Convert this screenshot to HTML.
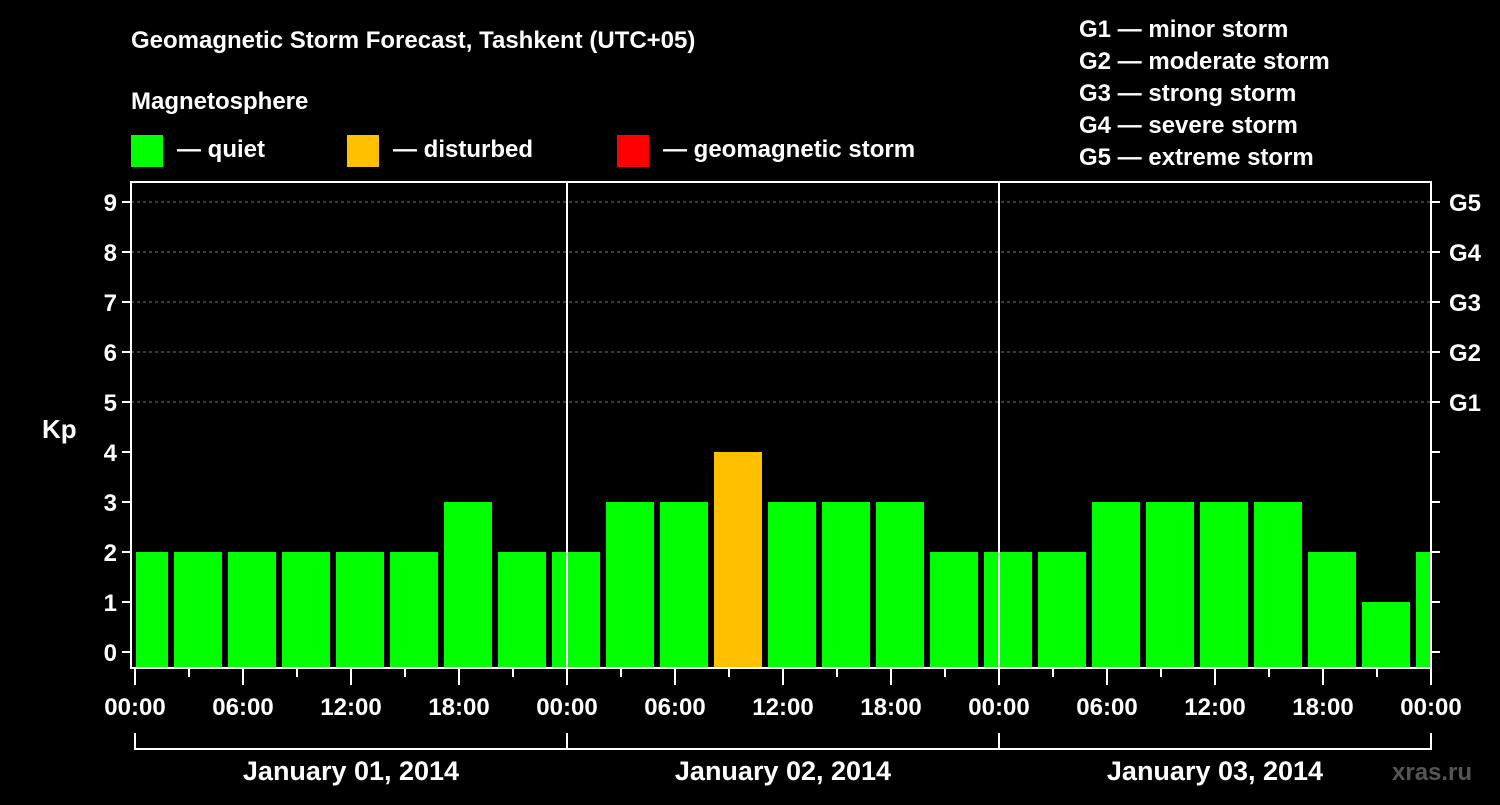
<!DOCTYPE html>
<html><head><meta charset="utf-8"><style>
body{margin:0;background:#000;width:1500px;height:800px;overflow:hidden}
svg text{font-family:"Liberation Sans",sans-serif;font-weight:bold;fill:#fff}
</style></head><body>
<svg id="c" width="1500" height="800">
<text x="131" y="48" font-size="24">Geomagnetic Storm Forecast, Tashkent (UTC+05)</text>
<text x="131" y="109" font-size="24">Magnetosphere</text>
<g><rect x="131" y="135" width="32" height="32" fill="#00ff00"/><text x="177" y="157" font-size="24">— quiet</text></g>
<g><rect x="347" y="135" width="32" height="32" fill="#ffc000"/><text x="393" y="157" font-size="24">— disturbed</text></g>
<g><rect x="617" y="135" width="32" height="32" fill="#ff0000"/><text x="663" y="157" font-size="24">— geomagnetic storm</text></g>
<g font-size="24">
<text x="1079" y="37">G1 — minor storm</text><text x="1079" y="69">G2 — moderate storm</text><text x="1079" y="101">G3 — strong storm</text><text x="1079" y="133">G4 — severe storm</text><text x="1079" y="165">G5 — extreme storm</text></g>
<text x="42" y="438" font-size="26">Kp</text>
<text x="1392" y="780" font-size="24" fill="#555" style="fill:#555">xras.ru</text>
<g id="g"></g>
</svg>
<script>
const kpValues=[2,2,2,2,2,2,3,2,2,3,3,4,3,3,3,2,2,2,3,3,3,3,2,1,2];
const slotStartHours=[-3,0,3,6,9,12,15,18,21,24,27,30,33,36,39,42,45,48,51,54,57,60,63,66,69];
const yTicks=[0,1,2,3,4,5,6,7,8,9];
const gLabels=["G1","G2","G3","G4","G5"];
const xTickLabels=["00:00","06:00","12:00","18:00","00:00","06:00","12:00","18:00","00:00","06:00","12:00","18:00","00:00"];
const dateLabels=["January 01, 2014","January 02, 2014","January 03, 2014"];
const X0=135,PX_H=18,L=131,R=1431,T=182,B=668;
const xs=h=>X0+h*PX_H, ys=v=>652-v*50;
const ns="http://www.w3.org/2000/svg",g=document.getElementById('g');
function mk(t,a,p){const e=document.createElementNS(ns,t);for(const k in a)e.setAttribute(k,a[k]);(p||g).appendChild(e);return e;}
// grid
for(let v=5;v<=9;v++){const l=mk('line',{x1:L,x2:R,y1:ys(v),y2:ys(v),stroke:'#777','stroke-dasharray':'3,3'});

}
// bars
kpValues.forEach((v,i)=>{let x1=xs(slotStartHours[i]+5/3)+0, x2=xs(slotStartHours[i]+5/3)+48;
x1=xs(slotStartHours[i])+39;x2=x1+48;
x1=Math.max(x1,L+5);x2=Math.min(x2,R);
const r=mk('rect',{x:x1,y:ys(v),width:x2-x1,height:667-ys(v),fill:v>=5?'#ff0000':v>=4?'#ffc000':'#00ff00'});

});
// day separators
[1,2].forEach(d=>{const l=mk('line',{x1:xs(24*d),x2:xs(24*d),y1:T,y2:B,stroke:'#fff','stroke-width':2});

});
// frame
const f=mk('rect',{x:L,y:T,width:R-L,height:B-T,fill:'none',stroke:'#fff','stroke-width':2});


// y ticks
yTicks.forEach(v=>{mk('line',{x1:L-9,x2:L,y1:ys(v),y2:ys(v),stroke:'#fff','stroke-width':2});
mk('line',{x1:R,x2:R+9,y1:ys(v),y2:ys(v),stroke:'#fff','stroke-width':2});
const t=mk('text',{x:L-14,y:ys(v)+9,'font-size':24,'text-anchor':'end'});t.textContent=v;

});
gLabels.forEach((s,i)=>{const t=mk('text',{x:1449,y:ys(5+i)+9,'font-size':24});t.textContent=s;

});
// x ticks
for(let h=0;h<=72;h+=3){const maj=h%6==0;mk('line',{x1:xs(h),x2:xs(h),y1:B,y2:B+(maj?17:9),stroke:'#fff','stroke-width':2});}
xTickLabels.forEach((s,i)=>{const t=mk('text',{x:xs(i*6),y:715,'font-size':24,'text-anchor':'middle'});t.textContent=s;

});
// date brackets
mk('line',{x1:X0,x2:R,y1:749,y2:749,stroke:'#fff','stroke-width':2});
[0,1,2,3].forEach(d=>mk('line',{x1:xs(24*d),x2:xs(24*d),y1:733,y2:750,stroke:'#fff','stroke-width':2}));
dateLabels.forEach((s,i)=>{const t=mk('text',{x:xs(24*i+12),y:780,'font-size':27,'text-anchor':'middle'});t.textContent=s;

});
</script>
</body></html>
